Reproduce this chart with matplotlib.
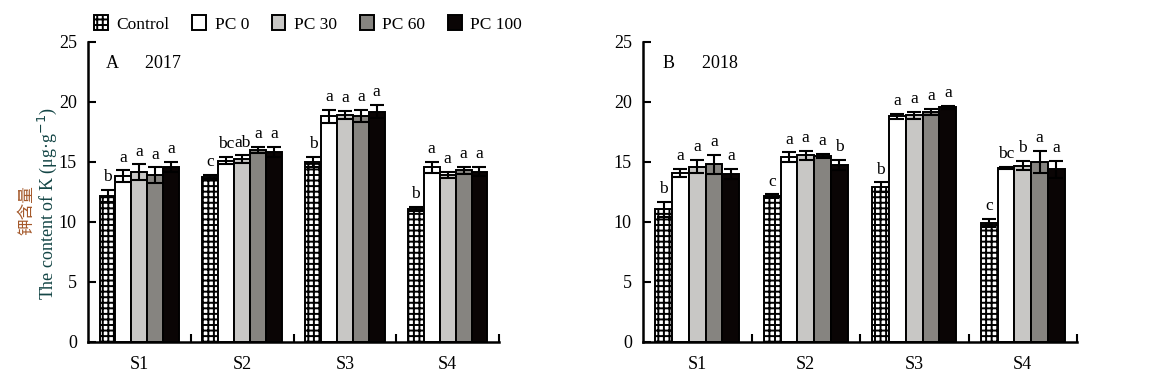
import numpy as np
import matplotlib
matplotlib.use("Agg")
import matplotlib.pyplot as plt

plt.rcParams['font.family'] = ['Liberation Serif', 'Noto Sans CJK SC', 'DejaVu Sans']
plt.rcParams['hatch.linewidth'] = 1.4

sites = ["S1", "S2", "S3", "S4"]
treatments = ["Control", "PC 0", "PC 30", "PC 60", "PC 100"]

# 2017 (panel A): mean per treatment across sites
mean_2017 = {
    "Control": [12.15, 13.75, 15.0, 11.1],
    "PC 0":    [13.8, 15.1, 18.8, 14.55],
    "PC 30":   [14.15, 15.25, 18.9, 13.9],
    "PC 60":   [13.9, 16.0, 18.85, 14.3],
    "PC 100":  [14.6, 15.85, 19.2, 14.2],
}
err_2017 = {
    "Control": [0.5, 0.15, 0.45, 0.15],
    "PC 0":    [0.5, 0.3, 0.55, 0.45],
    "PC 30":   [0.65, 0.3, 0.35, 0.25],
    "PC 60":   [0.65, 0.25, 0.5, 0.3],
    "PC 100":  [0.4, 0.4, 0.55, 0.4],
}
letters_2017 = {
    "Control": ["b", "c", "b", "b"],
    "PC 0":    ["a", "bc", "a", "a"],
    "PC 30":   ["a", "ab", "a", "a"],
    "PC 60":   ["a", "a", "a", "a"],
    "PC 100":  ["a", "a", "a", "a"],
}

# 2018 (panel B)
mean_2018 = {
    "Control": [11.05, 12.15, 12.9, 9.9],
    "PC 0":    [14.1, 15.4, 18.8, 14.5],
    "PC 30":   [14.6, 15.55, 18.9, 14.7],
    "PC 60":   [14.8, 15.5, 19.2, 15.0],
    "PC 100":  [14.0, 14.75, 19.55, 14.4],
}
err_2018 = {
    "Control": [0.65, 0.15, 0.4, 0.35],
    "PC 0":    [0.35, 0.4, 0.2, 0.1],
    "PC 30":   [0.55, 0.35, 0.3, 0.4],
    "PC 60":   [0.8, 0.15, 0.25, 0.9],
    "PC 100":  [0.4, 0.4, 0.1, 0.7],
}
letters_2018 = {
    "Control": ["b", "c", "b", "c"],
    "PC 0":    ["a", "a", "a", "bc"],
    "PC 30":   ["a", "a", "a", "b"],
    "PC 60":   ["a", "a", "a", "a"],
    "PC 100":  ["a", "b", "a", "a"],
}

colors = {"Control": "white", "PC 0": "white", "PC 30": "#c8c7c5",
          "PC 60": "#868480", "PC 100": "#0a0505"}
hatches = {"Control": "+++", "PC 0": None, "PC 30": None, "PC 60": None, "PC 100": None}

W, H = 1170, 383
fig = plt.figure(figsize=(W / 100, H / 100), dpi=100)
bottom = (H - 342) / H
height = 300 / H
axA = fig.add_axes([88 / W, bottom, (499 - 88) / W, height])
axB = fig.add_axes([643 / W, bottom, (1077 - 643) / W, height])

bw = 0.155
x = np.arange(len(sites))


def draw(ax, means, errs, letters, label):
    handles = []
    for i, t in enumerate(treatments):
        pos = x + (i - 2) * bw
        b = ax.bar(pos, means[t], bw, color=colors[t], edgecolor="black",
                   linewidth=1.4, hatch=hatches[t], label=t, zorder=2)
        handles.append(b)
        ax.errorbar(pos, means[t], yerr=errs[t], fmt="none", ecolor="black",
                    elinewidth=1.5, capsize=5.3, capthick=1.5, zorder=3)
        for p, m, e, l in zip(pos, means[t], errs[t], letters[t]):
            ax.text(p, m + e + 0.4, l, ha="center", va="bottom", fontsize=12.5)
    ax.set_xlim(-0.5, 3.5)
    ax.set_ylim(0, 25)
    ax.set_yticks([0, 5, 10, 15, 20, 25])
    ax.set_xticks([0.5, 1.5, 2.5, 3.5])
    ax.set_xticklabels([])
    ax.set_xticks(x, minor=True)
    ax.set_xticklabels(sites, minor=True)
    ax.tick_params(axis="x", which="major", direction="in", length=6, width=1.5)
    ax.tick_params(axis="x", which="minor", length=0, pad=10, labelsize=13)
    ax.tick_params(axis="y", direction="in", length=6, width=1.5, labelsize=13, pad=8)
    for s in ["top", "right"]:
        ax.spines[s].set_visible(False)
    for s in ["left", "bottom"]:
        ax.spines[s].set_linewidth(1.8)
    ax.text(0.045, 0.955, label, transform=ax.transAxes, ha="left", va="top", fontsize=13)
    return handles


handles = draw(axA, mean_2017, err_2017, letters_2017, "A      2017")
draw(axB, mean_2018, err_2018, letters_2018, "B      2018")

fig.legend(handles, treatments, loc="center", bbox_to_anchor=(308 / W, 1 - 24 / H),
           ncol=5, frameon=False, fontsize=12.5, handlelength=0.8, handleheight=0.9,
           handletextpad=0.5, columnspacing=1.3, borderaxespad=0)

fig.text(27 / W, 1 - 210 / H, "钾含量", rotation=90, ha="center", va="center",
         fontsize=12, color="#a4582a", family=["Noto Sans CJK SC", "DejaVu Sans"])
fig.text(47 / W, 1 - 203 / H, "The content of K (μg·g$^{-1}$)", rotation=90,
         ha="center", va="center", fontsize=13, color="#134545")

fig.savefig("out.png", dpi=100)
